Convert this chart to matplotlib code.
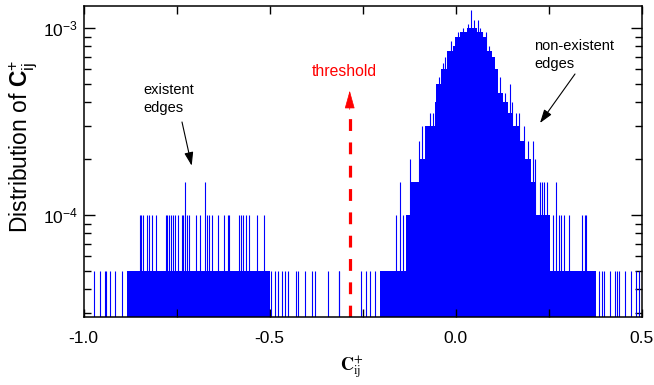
import matplotlib
matplotlib.use("Agg")
import matplotlib.pyplot as plt
from matplotlib.ticker import LogLocator, NullFormatter, FixedFormatter, FixedLocator

plt.rcParams['font.family'] = ['Liberation Sans', 'DejaVu Sans']
plt.rcParams['mathtext.fontset'] = 'custom'
plt.rcParams['mathtext.rm'] = 'Liberation Sans'
plt.rcParams['mathtext.it'] = 'Liberation Sans:italic'
plt.rcParams['mathtext.bf'] = 'Liberation Sans:bold'
plt.rcParams['axes.unicode_minus'] = False

# ---------------- data (counts per bin, normalised by sample total) ----------------
sample_total = 20000

# solid runs of bins at one count level: start, end, count
run_start = [-0.8832, -0.2042]
run_end = [-0.4994, 0.3774]
run_count = [1, 1]

# central peak envelope (step edges and counts)
env_edges = [-0.1325, -0.1237, -0.0995, -0.0834, -0.0566, -0.0520, -0.0386, -0.0236,
             -0.0075, -0.0029, 0.0105, 0.0293, 0.0401, 0.0562, 0.0723, 0.0830,
             0.0964, 0.1044, 0.1125, 0.1259, 0.1393, 0.1527, 0.1715, 0.1849,
             0.2030, 0.2164, 0.2521]
env_counts = [2, 3, 4, 6, 8, 10, 12, 15, 16, 18, 19, 20, 20, 19, 18, 15,
              14, 12, 9, 8, 7, 6, 5, 4, 3, 2]

# isolated bins with one count
single_x = [-0.9718, -0.9565, -0.9415, -0.9388, -0.9281, -0.9147, -0.8959,
            -0.4967, -0.4860, -0.4788, -0.4680, -0.4584, -0.4503, -0.4297,
            -0.4235, -0.4055, -0.3875, -0.3787, -0.3446, -0.3150, -0.3134,
            -0.2560, -0.2426, -0.2302, -0.2168,
            0.3836, 0.3935, 0.3978, 0.4131, 0.4284, 0.4319, 0.4373, 0.4542,
            0.4695, 0.4848, 0.4918]

# bins with two counts
double_x = [-0.8484, -0.8443, -0.8403, -0.8288, -0.8250, -0.8161, -0.8046,
            -0.7786, -0.7745, -0.7705, -0.7651, -0.7598, -0.7544, -0.7472,
            -0.7356, -0.7316, -0.7222, -0.7168, -0.6972, -0.6865, -0.6686,
            -0.6632, -0.6559, -0.6382, -0.6221, -0.6114, -0.6087, -0.5834,
            -0.5781, -0.5711, -0.5639, -0.5550, -0.5351, -0.5155,
            -0.1594, -0.1417,
            0.2609, 0.2762, 0.2816, 0.2896, 0.3030, 0.3398, 0.3460, 0.3506]

# other isolated spikes (position, count)
spike_x = [-0.7262, -0.6739, -0.1497, -0.1218, -0.0981, -0.0900, -0.0700, -0.0620,
           -0.0450, -0.0332, -0.0280, -0.0120, 0.0050, 0.0200,
           0.0328, 0.0419, 0.0489, 0.0607, 0.0642, 0.0700, 0.0822, 0.0900,
           0.1000, 0.1180, 0.1320, 0.1447, 0.1500, 0.1627, 0.1700, 0.1820,
           0.1950, 0.2072, 0.2130, 0.2253, 0.2307, 0.2361, 0.2449, 0.2682]
spike_count = [3, 3, 3, 4, 5, 6, 7, 7,
               11, 13, 14, 17, 19, 20,
               21, 25, 22, 22, 20, 19, 19, 16,
               14, 11, 9, 10, 8, 7, 7, 6,
               5, 5, 4, 3, 3, 3, 3, 3]

threshold_x = -0.285
threshold_top = 3.78e-4
threshold_head = 4.62e-4

x_ticks = [-1.0, -0.75, -0.5, -0.25, 0.0, 0.25, 0.5]
x_labels = ['-1.0', '', '-0.5', '', '0.0', '', '0.5']

# ---------------- figure ----------------
W, H = 654, 385
fig = plt.figure(figsize=(W / 100, H / 100), dpi=100)
ax = fig.add_axes([83.5 / W, 1 - 317 / H, (642 - 83.5) / W, (317 - 6) / H])
ax.set_yscale('log')
ax.set_xlim(-1.0, 0.5)
ax.set_ylim(2.847e-5, 1.311e-3)

blue = '#0000FF'
base = 1e-7

for s, e, c in zip(run_start, run_end, run_count):
    ax.bar(s, c / sample_total - base, width=e - s, bottom=base, align='edge',
           color=blue, linewidth=0)

for i, c in enumerate(env_counts):
    ax.bar(env_edges[i], c / sample_total - base, width=env_edges[i + 1] - env_edges[i],
           bottom=base, align='edge', color=blue, linewidth=0)

ax.vlines(single_x, base, [1 / sample_total] * len(single_x), color=blue, lw=0.8)
ax.vlines(double_x, base, [2 / sample_total] * len(double_x), color=blue, lw=0.8)
ax.vlines(spike_x, base, [c / sample_total for c in spike_count], color=blue, lw=0.8)

# threshold dashed arrow
ax.plot([threshold_x, threshold_x], [2.847e-5, threshold_top], color='#FF0000',
        lw=2.3, dashes=(3.7, 3.6), dash_capstyle='butt', solid_capstyle='butt')
ax.annotate('', xy=(threshold_x, threshold_head), xytext=(threshold_x, threshold_top * 0.97),
            arrowprops=dict(arrowstyle='-|>,head_length=1.15,head_width=0.32',
                            color='#FF0000', lw=0.5, shrinkA=0, shrinkB=0,
                            mutation_scale=10))

# ticks
ax.xaxis.set_major_locator(FixedLocator(x_ticks))
ax.xaxis.set_major_formatter(FixedFormatter(x_labels))
ax.yaxis.set_major_locator(LogLocator(base=10))
ax.yaxis.set_minor_locator(LogLocator(base=10, subs=range(2, 10)))
ax.yaxis.set_minor_formatter(NullFormatter())
ax.tick_params(axis='both', which='both', direction='in', top=True, right=True,
               labelsize=12.5, width=1.0, color='black')
ax.tick_params(axis='x', which='major', length=6, pad=10)
ax.tick_params(axis='y', which='major', length=8, pad=4)
ax.tick_params(axis='y', which='minor', length=5)
for sp in ax.spines.values():
    sp.set_linewidth(1.1)

def fp(px, py):
    return (px / W, 1 - py / H)

# labels
fig.text(*fp(352, 368), r'$\mathbf{C}^{+}_{\mathrm{ij}}$', ha='center', va='center',
         fontsize=13, math_fontfamily='stix')
fig.text(*fp(23, 146), r'Distribution of $\mathbf{C}^{+}_{\mathrm{ij}}$', rotation=90,
         ha='center', va='center', fontsize=16.5)

# annotations
fig.text(*fp(143, 99), 'existent\nedges', ha='left', va='center', fontsize=10.5,
         linespacing=1.35)
fig.text(*fp(344, 72), 'threshold', ha='center', va='center', fontsize=11.3,
         color='#FF0000')
fig.text(*fp(534, 55), 'non-existent\nedges', ha='left', va='center', fontsize=10.5,
         linespacing=1.35)

arrow_kw = dict(arrowstyle='-|>,head_length=0.9,head_width=0.3', color='black',
                lw=0.8, shrinkA=0, shrinkB=0, mutation_scale=9)
ax.annotate('', xy=(191.7, H - 165.7), xytext=(182, H - 122),
            xycoords='figure pixels', textcoords='figure pixels', arrowprops=arrow_kw)
ax.annotate('', xy=(540, H - 123), xytext=(575, H - 74),
            xycoords='figure pixels', textcoords='figure pixels', arrowprops=arrow_kw)

fig.savefig('out.png', dpi=100)
